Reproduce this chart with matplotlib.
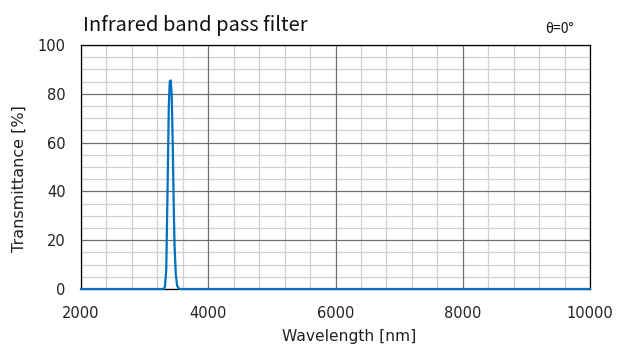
import matplotlib
matplotlib.use("Agg")
import matplotlib.pyplot as plt
from matplotlib.ticker import MultipleLocator

plt.rcParams['font.family'] = ['DejaVu Sans']

wavelength = [2000, 3200, 3300, 3320, 3340, 3360, 3380, 3395, 3410, 3425, 3440,
              3455, 3470, 3490, 3510, 3530, 3560, 3700, 10000]
transmittance = [0, 0, 0, 1, 8, 40, 75, 85, 85.5, 80, 62,
                 38, 18, 6, 1.5, 0.3, 0, 0, 0]

x_ticks = [2000, 4000, 6000, 8000, 10000]
y_ticks = [0, 20, 40, 60, 80, 100]

fig = plt.figure(figsize=(6.24, 3.52), dpi=100)
L, R, T, B = 81, 590, 45, 289
ax = fig.add_axes([L/624, 1-B/352, (R-L)/624, (B-T)/352])

ax.set_xlim(2000, 10000)
ax.set_ylim(0, 100)
ax.set_xticks(x_ticks)
ax.set_yticks(y_ticks)
ax.xaxis.set_minor_locator(MultipleLocator(400))
ax.yaxis.set_minor_locator(MultipleLocator(5))
ax.grid(which='minor', color='#D0D0D0', linewidth=0.9, zorder=0)
for xv in x_ticks:
    ax.axvline(xv, color='#707070', linewidth=0.9, zorder=1)
for yv in y_ticks:
    ax.axhline(yv, color='#707070', linewidth=0.9, zorder=1)
ax.set_axisbelow(True)
ax.tick_params(which='both', length=0)
ax.tick_params(axis='x', labelsize=10.5, colors='#222222', pad=12)
ax.tick_params(axis='y', labelsize=10.5, colors='#222222', pad=11)
for s in ax.spines.values():
    s.set_color('black')
    s.set_linewidth(0.9)
    s.set_zorder(2)

ax.plot(wavelength, transmittance, color='#0070C0', linewidth=1.6, clip_on=False, zorder=3)

ax.set_xlabel('Wavelength [nm]', fontsize=11.2, color='#222222')
ax.set_ylabel('Transmittance [%]', fontsize=11.5, color='#222222')
ax.xaxis.set_label_coords((349 - L) / (R - L), -(329 - B) / (B - T))
ax.yaxis.set_label_coords(-(L - 27) / (R - L), (B - 178.5) / (B - T))

fig.text(83/624, 1-25/352, 'Infrared band pass filter', fontsize=14.5, va='center', ha='left',
         color='#111111', family=['Noto Sans CJK JP', 'DejaVu Sans'])
fig.text(574/624, 1-29/352, 'θ=0°', fontsize=10, va='center', ha='right', color='#111111',
         family=['Noto Sans CJK JP', 'DejaVu Sans'])

fig.savefig('out.png', dpi=100)
